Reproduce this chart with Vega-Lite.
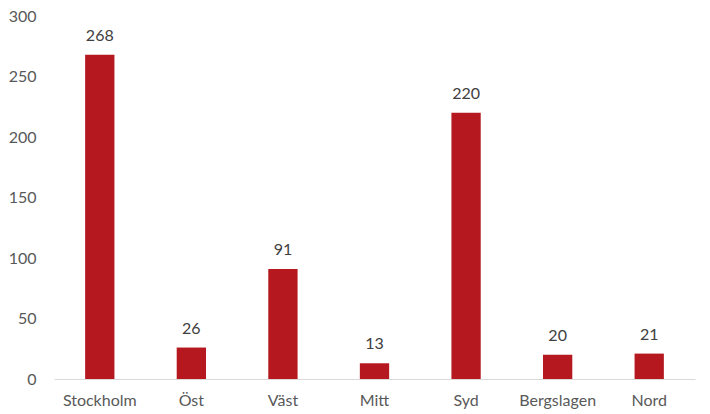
{
  "$schema": "https://vega.github.io/schema/vega-lite/v6.json",
  "autosize": {"type": "none"},
  "width": 641,
  "height": 363,
  "padding": {"left": 54, "top": 16, "right": 15, "bottom": 35},
  "background": "white",
  "config": {"view": {"stroke": null}, "font": "Lato"},
  "data": {"values": [
    {"region": "Stockholm", "value": 268},
    {"region": "Öst", "value": 26},
    {"region": "Väst", "value": 91},
    {"region": "Mitt", "value": 13},
    {"region": "Syd", "value": 220},
    {"region": "Bergslagen", "value": 20},
    {"region": "Nord", "value": 21}
  ]},
  "encoding": {
    "x": {"field": "region", "type": "nominal", "sort": null,
      "scale": {"paddingInner": 0.68, "paddingOuter": 0.34},
      "axis": {"title": null, "labelAngle": 0, "ticks": false, "domainColor": "#D9D9D9", "domainWidth": 1,
        "labelColor": "#595959", "labelFontSize": 16, "labelPadding": 13, "labelFont": "Lato"}},
    "y": {"field": "value", "type": "quantitative",
      "scale": {"domain": [0, 300]},
      "axis": {"title": null, "values": [0, 50, 100, 150, 200, 250, 300], "grid": false, "domain": false, "ticks": false,
        "labelColor": "#595959", "labelFontSize": 16, "labelPadding": 18, "labelFont": "Lato"}}
  },
  "layer": [
    {"mark": {"type": "bar", "color": "#B5191F"}},
    {"mark": {"type": "text", "baseline": "alphabetic", "dy": -14, "fontSize": 16, "color": "#404040", "font": "Lato"},
      "encoding": {"text": {"field": "value", "type": "quantitative"}}}
  ]
}
